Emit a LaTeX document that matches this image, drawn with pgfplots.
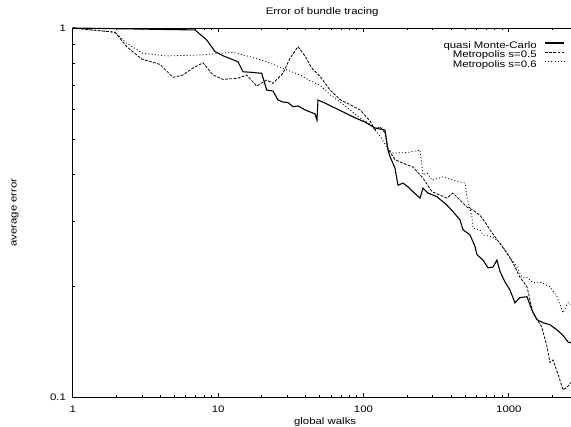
\documentclass[border=0pt]{standalone}
\usepackage{fontspec}
\setmainfont{Liberation Sans}[FakeStretch=1.2]
\usepackage{pgfplots}
\pgfplotsset{compat=1.18}
\begin{document}
\fontsize{9.5}{11}\selectfont
\begin{tikzpicture}
\begin{axis}[
  name=ax,
  xmode=log, ymode=log,
  scale only axis,
  width=498.9pt, height=369pt,
  xmin=1, xmax=2700, ymin=0.1, ymax=1,
  xtick={1,10,100,1000}, xticklabels={1,10,100,1000},
  minor xtick={2,3,4,5,6,7,8,9,20,30,40,50,60,70,80,90,200,300,400,500,600,700,800,900,2000},
  ytick={0.1,1}, yticklabels={0.1,1},
  minor ytick={0.2,0.3,0.4,0.5,0.6,0.7,0.8,0.9},
  ytick pos=left,
  tick align=inside,
  major tick length=4.5pt, minor tick length=2.5pt,
  tick style={line width=0.8pt, black},
  axis line style={line width=0.9pt},
  xticklabel style={anchor=center, yshift=-12.5pt, inner sep=0pt},
  yticklabel style={anchor=east, xshift=-6.5pt, inner sep=0pt},
  title={Error of bundle tracing},
  title style={at={(axis description cs:0.5,1)}, anchor=center, yshift=10pt, inner sep=0pt},
  xlabel={global walks},
  xlabel style={at={(axis description cs:0.5,0)}, anchor=center, yshift=-25pt, xshift=3pt, inner sep=0pt},
  ylabel={average error},
  ylabel style={at={(axis description cs:0,0.5)}, anchor=center, yshift=57.7pt, inner sep=0pt},
  legend cell align=right,
  legend plot pos=right,
  legend style={at={(axis description cs:0.9868,0.963)}, anchor=north east, draw=none, fill=none,
    inner sep=0pt, row sep=0pt,
    nodes={inner ysep=0pt, inner xsep=0pt, text height=6.8pt, text depth=2.4pt}},
  legend image code/.code={\path (0pt,0pt); \draw[#1] (7.7pt,3.4pt) -- (27pt,3.4pt);},
]
\addplot[black, line width=1.1pt] coordinates {
(1,1) (6.94,0.988) (8.35,0.928) (9.52,0.863) (10.81,0.841) (12.40,0.823) (13.71,0.810)
(14.84,0.761) (16.57,0.759) (19.95,0.754) (21.59,0.679) (23.86,0.675) (25.82,0.638)
(27.95,0.630) (30.26,0.628) (32.74,0.612) (35.44,0.615) (39.60,0.600) (46.39,0.585)
(47.88,0.563) (48.65,0.638) (54.35,0.626) (63.68,0.607) (74.61,0.589) (87.41,0.571)
(102.4,0.556) (120.0,0.536) (140.6,0.529) (147.4,0.467) (152.2,0.448) (164.7,0.417)
(172.7,0.375) (186.9,0.380) (202.3,0.371) (219.0,0.360) (244.7,0.346) (256.6,0.368)
(277.7,0.357) (320.3,0.349) (375.2,0.331) (412.6,0.318) (461.0,0.302) (483.4,0.284)
(540.0,0.275) (584.6,0.256) (603.4,0.243) (663.6,0.235) (718.5,0.224) (777.4,0.225)
(828.3,0.235) (868.7,0.219) (940.0,0.205) (1017,0.195) (1101,0.180) (1192,0.186)
(1332,0.187) (1442,0.172) (1561,0.162) (1716,0.159) (1917,0.157) (2142,0.152)
(2356,0.147) (2550,0.141) (2700,0.140)
};
\addlegendentry{quasi Monte-Carlo}
\addplot[black, line width=0.8pt, dash pattern=on 2.8pt off 1.4pt] coordinates {
(1,1) (1.954,0.974) (2.352,0.890) (2.983,0.824) (3.985,0.797) (4.896,0.735) (5.736,0.746)
(6.721,0.779) (7.874,0.805) (9.224,0.746) (10.81,0.726) (13.71,0.731) (15.73,0.746)
(18.43,0.696) (21.59,0.723) (23.86,0.708) (27.95,0.754) (31.23,0.828) (35.44,0.890)
(39.6,0.84) (44.0,0.78) (50.2,0.74) (58.8,0.68) (68.9,0.64) (80.75,0.62) (94.6,0.60)
(110.8,0.56) (120.0,0.53) (129.9,0.54) (140.6,0.52) (147.4,0.47) (164.7,0.44)
(186.9,0.43) (219.0,0.42) (244.7,0.40) (256.6,0.392) (295.9,0.36) (352.2,0.35)
(375.2,0.346) (412.6,0.357) (515,0.327) (566,0.321) (633,0.311) (707,0.2925)
(741,0.2835) (940,0.250) (1067,0.231) (1192,0.211) (1332,0.199) (1464,0.169)
(1680,0.155) (1830,0.137) (1917,0.124) (2011,0.126) (2200,0.114) (2356,0.1045)
(2550,0.107) (2700,0.110)
};
\addlegendentry{Metropolis s=0.5}
\addplot[black, line width=0.8pt, dash pattern=on 1pt off 2.2pt] coordinates {
(1,1) (1.954,0.974) (2.352,0.909) (3.04,0.854) (4.43,0.840) (7.51,0.845) (12.66,0.859)
(16.57,0.836) (21.59,0.810) (27.95,0.778) (36.59,0.746) (42.86,0.72) (50.2,0.70)
(58.8,0.66) (68.9,0.63) (80.75,0.60) (94.6,0.57) (110.8,0.55) (129.9,0.51) (147.4,0.47)
(159.6,0.458) (202.3,0.46) (244.7,0.467) (256.6,0.40) (273.4,0.405) (295.9,0.387)
(352.2,0.395) (412.6,0.387) (498.9,0.380) (515,0.348) (557.5,0.3075) (566.4,0.287)
(632.8,0.2835) (663.6,0.275) (777.4,0.271) (868.7,0.2615) (1017,0.2395) (1137,0.225)
(1231,0.211) (1332,0.211) (1464,0.204) (1637,0.205) (1917,0.199) (2142,0.187)
(2356,0.169) (2550,0.180) (2700,0.178)
};
\addlegendentry{Metropolis s=0.6}
\end{axis}
\pgfresetboundingbox
\path[use as bounding box] ([xshift=-72.7pt,yshift=-30pt]ax.south west) rectangle ([xshift=498.3pt,yshift=397pt]ax.south west);
\end{tikzpicture}
\end{document}
